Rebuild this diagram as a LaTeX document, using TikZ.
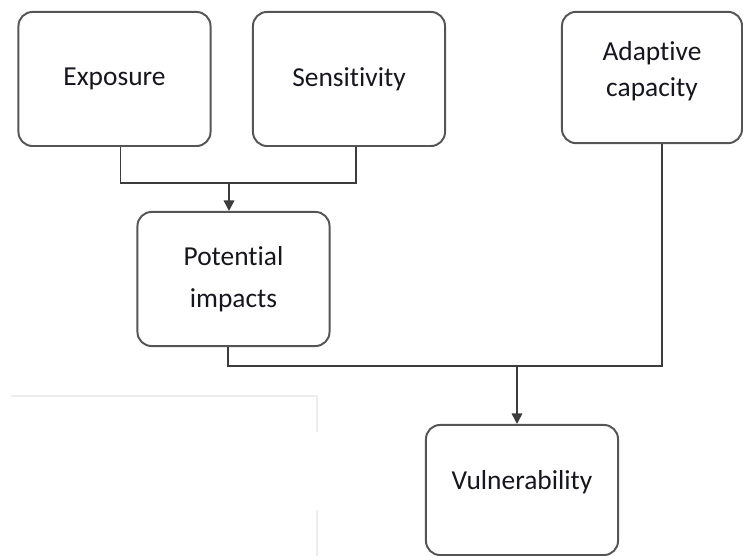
\documentclass[tikz,border=0pt]{standalone}
\usepackage{fontspec}
\setmainfont[Ligatures={NoCommon}]{Carlito}
\usepackage{xcolor}
\usepackage{tikz}
\usetikzlibrary{shapes,arrows.meta,positioning,calc}

\definecolor{boxline}{HTML}{555555}
\definecolor{linkline}{HTML}{3C3C3C}
\definecolor{boxtext}{HTML}{16161F}

\begin{document}
\begin{tikzpicture}[
    x=0.025cm, y=-0.025cm,
    factor/.style={rectangle, rounded corners=0.35cm, draw=boxline, line width=1.4pt,
        fill=white, text=boxtext, font=\fontsize{19.5}{25}\selectfont, align=center,
        inner sep=0pt, minimum width=4.8cm, minimum height=3.35cm},
    link/.style={draw=linkline, line width=1.1pt},
    arrow/.style={link, -{Triangle[width=7.5pt,length=7.5pt]}},
    faint/.style={draw=gray!14, line width=0.8pt}
]
    \useasboundingbox (0,0) rectangle (743,556);

    \node[factor] (expo) at (114.5,79) {Exposure};
    \node[factor] (sens) at (349,79) {Sensitivity};
    \node[factor, minimum width=4.5cm, minimum height=3.28cm, text depth=12pt] (adapt) at (652,77.5) {Adaptive\\capacity};
    \node[factor] (potent) at (233.5,279) {Potential\\[5pt]impacts};
    \node[factor, minimum height=3.25cm, text depth=14pt] (vuln) at (522,490) {Vulnerability};

    \coordinate (j1) at (229,183);
    \coordinate (j2) at (517,366);

    \draw[link] ($(expo.south)+(6,0)$) |- (j1);
    \draw[link] ($(sens.south)+(7,0)$) |- (j1);
    \draw[arrow] (j1) -- (j1 |- potent.north);

    \draw[link] ($(potent.south)+(-5.5,0)$) |- (j2);
    \draw[link] ($(adapt.south)+(10,0)$) |- (j2);
    \draw[arrow] (j2) -- (j2 |- vuln.north);

    % leftover edge of the scan
    \draw[faint] (11,396) -- (317,396) -- (317,432);
    \draw[faint] (317,510) -- (317,556);
\end{tikzpicture}
\end{document}
